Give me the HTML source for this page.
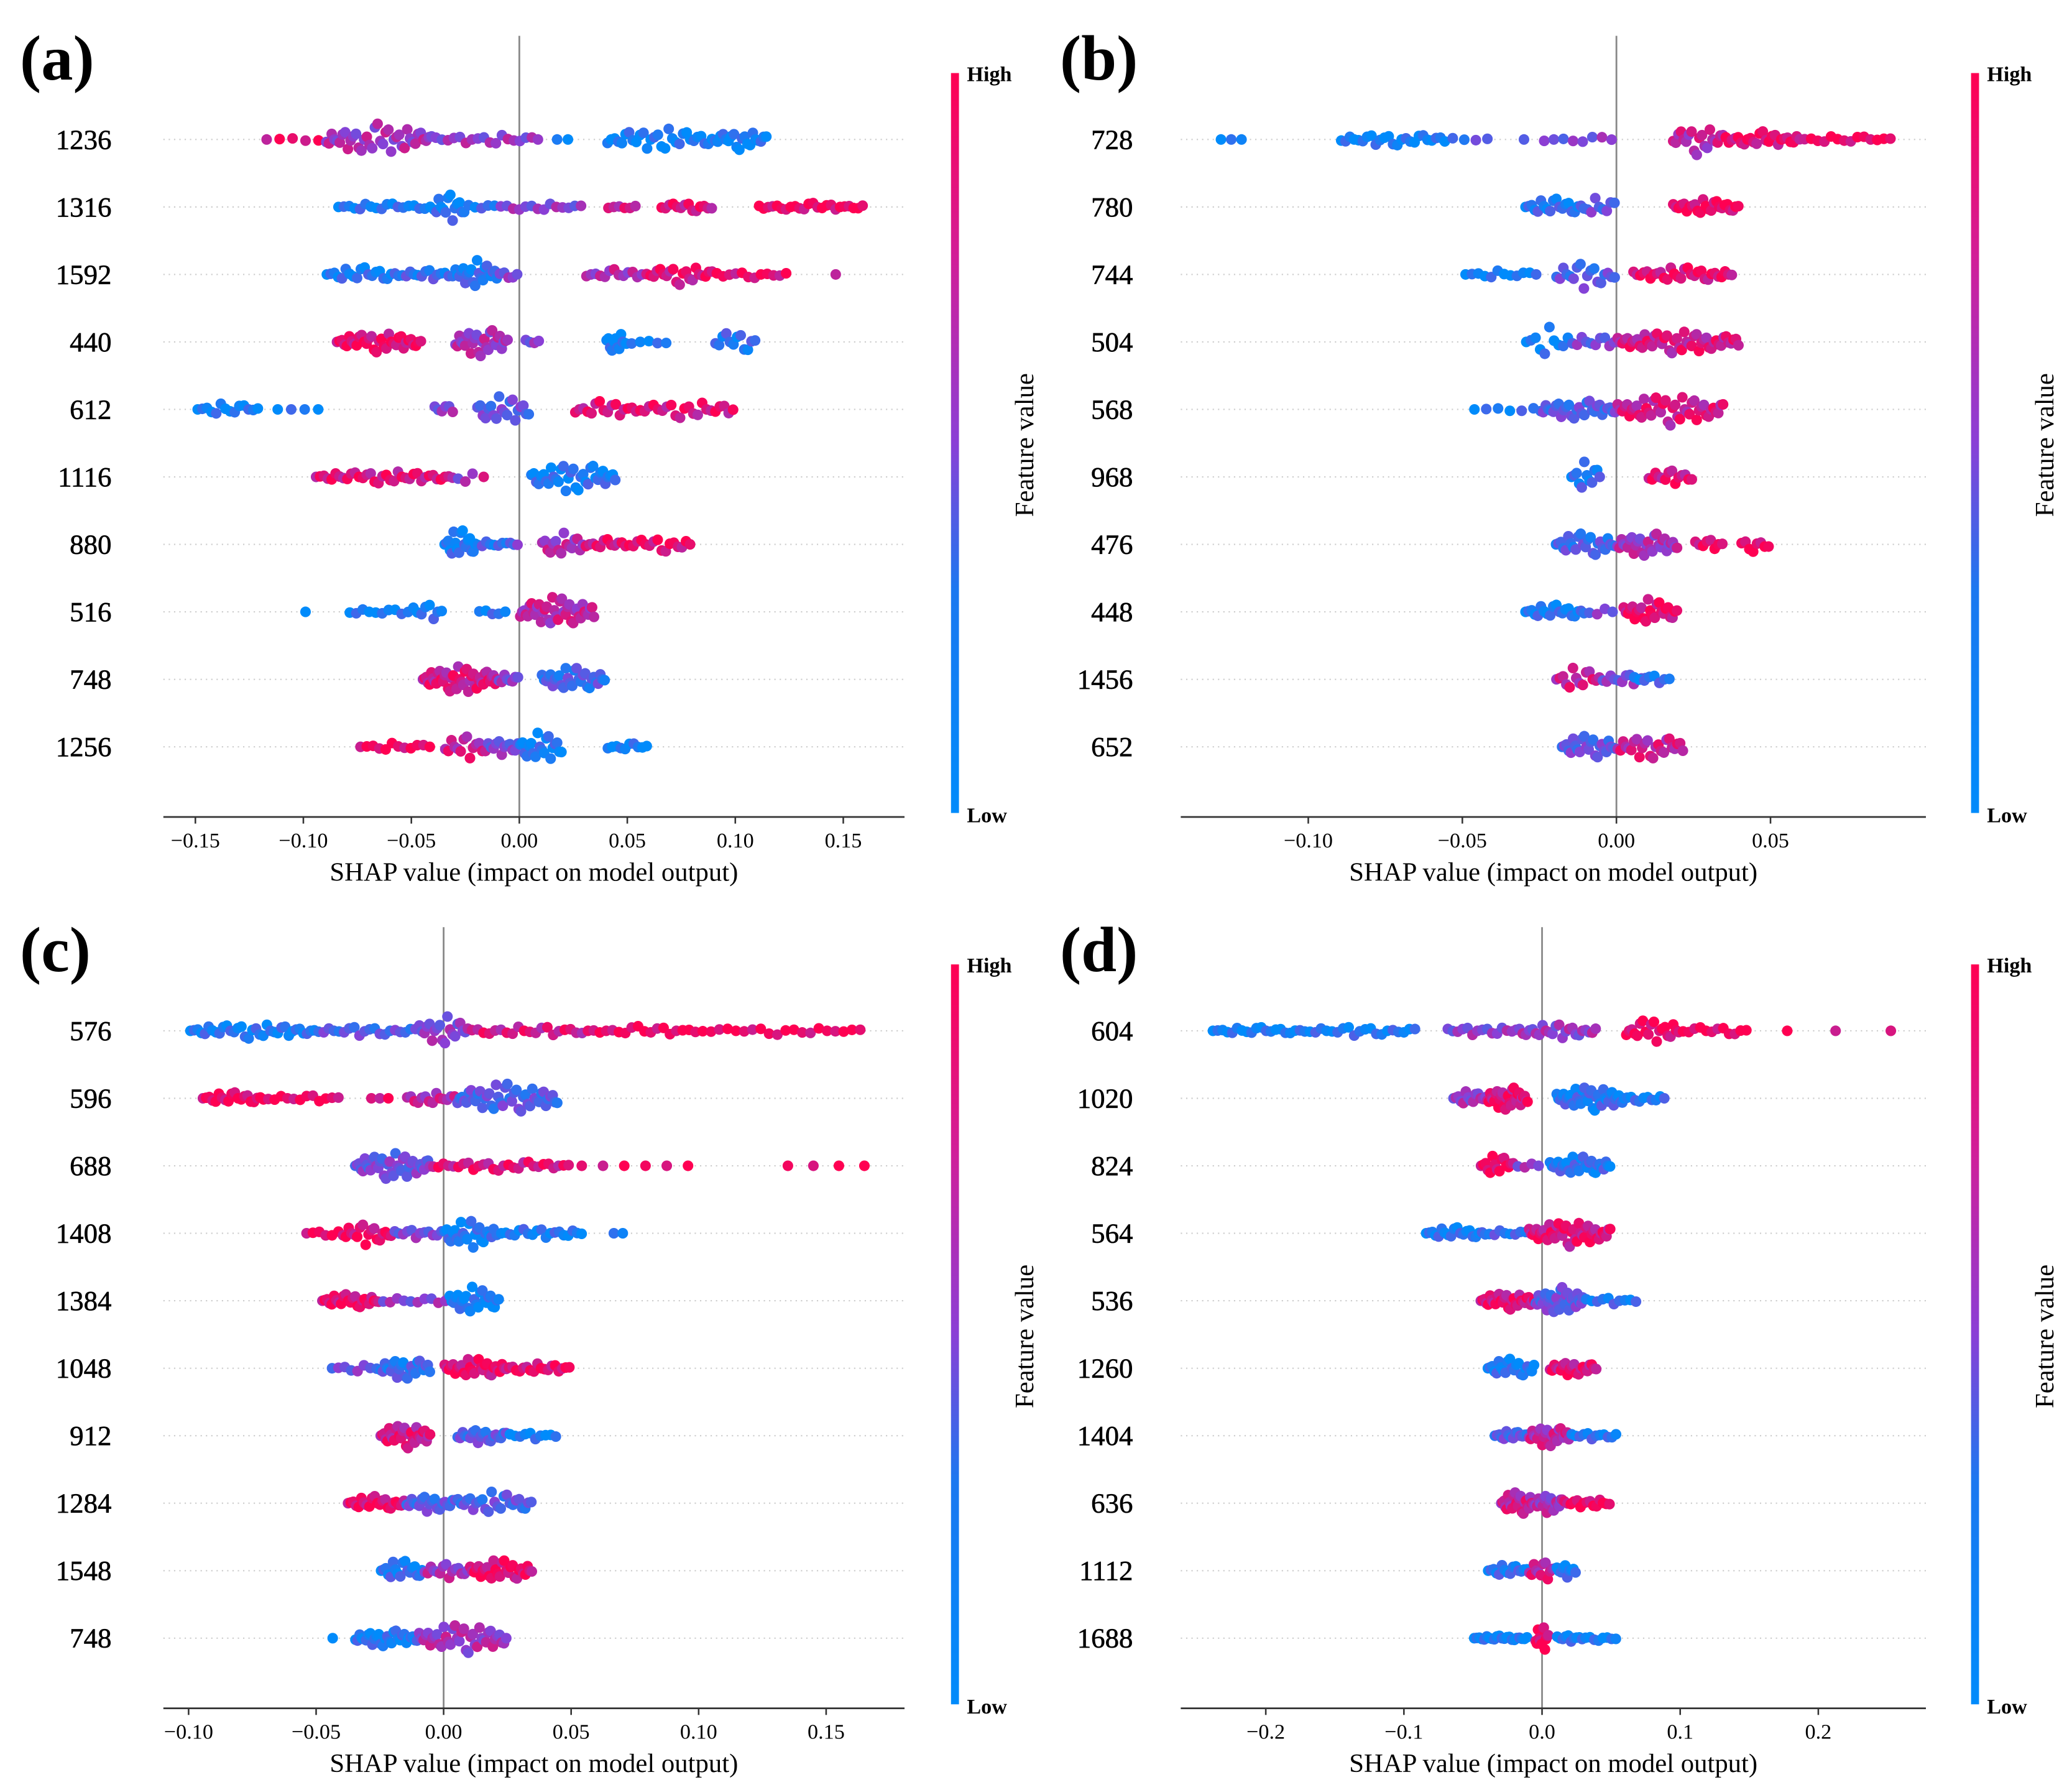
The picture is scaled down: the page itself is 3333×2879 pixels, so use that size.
<!DOCTYPE html>
<html><head><meta charset="utf-8"><style>
html,body{margin:0;padding:0;background:#fff;}
svg{display:block;font-family:"Liberation Serif",serif;}
</style></head><body>
<svg id="fig" width="3333" height="2879" viewBox="0 0 1560 1347.5" preserveAspectRatio="none" xmlns="http://www.w3.org/2000/svg">
<defs>
<linearGradient id="cbar" x1="0" y1="1" x2="0" y2="0">
<stop offset="0" stop-color="#008bfb"/><stop offset="0.3" stop-color="#1a78f0"/><stop offset="0.5" stop-color="#8a3fd6"/><stop offset="0.75" stop-color="#d11e98"/><stop offset="1" stop-color="#ff0052"/>
</linearGradient>
</defs>
</svg>
<script>
// ---- data ----
const panelLetters = ['(a)','(b)','(c)','(d)'];
const featuresA = ['1236','1316','1592','440','612','1116','880','516','748','1256'];
const featuresB = ['728','780','744','504','568','968','476','448','1456','652'];
const featuresC = ['576','596','688','1408','1384','1048','912','1284','1548','748'];
const featuresD = ['604','1020','824','564','536','1260','1404','636','1112','1688'];
const ticksA = [-0.15,-0.10,-0.05,0.00,0.05,0.10,0.15];
const ticksB = [-0.10,-0.05,0.00,0.05];
const ticksC = [-0.10,-0.05,0.00,0.05,0.10,0.15];
const ticksD = [-0.2,-0.1,0.0,0.1,0.2];
const tickLabelsA = ['\u22120.15','\u22120.10','\u22120.05','0.00','0.05','0.10','0.15'];
const tickLabelsB = ['\u22120.10','\u22120.05','0.00','0.05'];
const tickLabelsC = ['\u22120.10','\u22120.05','0.00','0.05','0.10','0.15'];
const tickLabelsD = ['\u22120.2','\u22120.1','0.0','0.1','0.2'];
// clusters: [lo, hi, count, featureColor(0 low..1 high), spread]
const clustersA = [
 [[-0.12,-0.09,5,0.9,2],[-0.09,-0.04,40,0.6,12],[-0.04,0.01,18,0.55,4],[0.015,0.025,2,0.1,0],[0.04,0.09,30,0.05,9],[0.09,0.115,20,0.05,8]],
 [[-0.085,-0.04,18,0.1,3],[-0.04,-0.025,14,0.1,12],[-0.025,-0.01,5,0.2,3],[-0.01,0.03,14,0.5,3],[0.04,0.055,6,0.8,2],[0.065,0.09,14,0.85,4],[0.11,0.16,24,0.95,3]],
 [[-0.09,-0.055,20,0.1,6],[-0.055,-0.03,14,0.2,4],[-0.03,-0.01,22,0.15,11],[-0.01,0,5,0.45,3],[0.03,0.06,14,0.65,4],[0.06,0.09,20,0.85,8],[0.09,0.125,12,0.9,3],[0.145,0.148,1,0.9,0]],
 [[-0.085,-0.045,35,0.9,8],[-0.03,-0.005,28,0.6,12],[0.002,0.01,4,0.5,3],[0.04,0.05,12,0.05,9],[0.05,0.07,5,0.1,3],[0.09,0.11,12,0.15,10]],
 [[-0.15,-0.12,14,0.05,5],[-0.115,-0.09,4,0.05,0],[-0.04,-0.03,6,0.5,5],[-0.02,0.005,20,0.35,12],[0.025,0.055,16,0.85,7],[0.055,0.1,22,0.85,7]],
 [[-0.095,-0.03,36,0.85,5],[-0.03,-0.02,3,0.5,5],[-0.018,-0.015,1,0.9,0],[0.005,0.045,35,0.1,12]],
 [[-0.035,-0.02,18,0.1,13],[-0.02,-0.005,8,0.2,3],[-0.005,0.0,3,0.4,2],[0.01,0.03,16,0.65,10],[0.03,0.05,12,0.85,4],[0.05,0.08,16,0.9,6]],
 [[-0.1,-0.098,1,0.05,0],[-0.08,-0.05,10,0.05,3],[-0.05,-0.035,8,0.1,8],[-0.02,-0.005,5,0.1,2],[0.0,0.035,40,0.7,12]],
 [[-0.045,-0.01,45,0.8,11],[-0.01,0,8,0.5,5],[0.01,0.04,30,0.25,10]],
 [[-0.075,-0.04,12,0.95,3],[-0.035,-0.015,14,0.75,10],[-0.015,0,12,0.45,7],[0,0.02,20,0.1,13],[0.04,0.06,10,0.05,3]]
];
const clustersB = [
 [[-0.13,-0.12,3,0.05,0],[-0.09,-0.055,25,0.05,5],[-0.055,-0.04,4,0.3,2],[-0.03,-0.03,1,0.3,0],[-0.025,0,8,0.45,3],[0.018,0.035,20,0.7,12],[0.035,0.06,25,0.9,6],[0.06,0.09,14,0.95,3]],
 [[-0.03,-0.01,20,0.15,7],[-0.01,0,8,0.35,10],[0.018,0.04,25,0.95,6]],
 [[-0.05,-0.025,12,0.05,3],[-0.02,0,18,0.3,11],[0.005,0.038,30,0.9,6]],
 [[-0.03,-0.015,10,0.05,12],[-0.015,0,10,0.4,6],[0,0.04,50,0.8,9]],
 [[-0.048,-0.025,6,0.1,2],[-0.025,0,30,0.3,8],[0,0.035,45,0.8,12]],
 [[-0.015,-0.005,12,0.15,12],[0.01,0.025,14,0.85,6]],
 [[-0.02,0.0,25,0.25,10],[0.0,0.02,30,0.6,10],[0.025,0.035,8,0.9,5],[0.04,0.05,8,0.95,6]],
 [[-0.03,-0.01,20,0.1,6],[-0.01,0,4,0.4,3],[0.002,0.02,25,0.9,10]],
 [[-0.02,-0.005,14,0.75,10],[-0.005,0.01,12,0.45,5],[0.005,0.018,8,0.15,4]],
 [[-0.018,0,25,0.35,10],[0,0.022,25,0.75,10]]
];
const clustersC = [
 [[-0.1,-0.05,35,0.1,6],[-0.05,-0.01,20,0.3,4],[-0.01,0.01,20,0.5,12],[0.01,0.06,22,0.8,4],[0.06,0.1,16,0.95,4],[0.1,0.165,20,0.95,3]],
 [[-0.095,-0.07,20,0.95,5],[-0.07,-0.04,12,0.95,3],[-0.03,-0.02,3,0.9,0],[-0.015,0.005,14,0.7,5],[0.005,0.045,45,0.3,12]],
 [[-0.035,-0.005,40,0.4,11],[-0.005,0.05,28,0.85,4],[0.05,0.1,6,0.95,0],[0.13,0.17,4,0.95,0]],
 [[-0.055,-0.04,6,0.95,3],[-0.04,-0.02,18,0.9,9],[-0.02,0,12,0.45,4],[0,0.02,25,0.1,12],[0.02,0.055,20,0.1,4],[0.065,0.072,2,0.05,0]],
 [[-0.048,-0.025,25,0.9,6],[-0.025,0.002,10,0.5,3],[0.002,0.022,25,0.05,11]],
 [[-0.045,-0.025,8,0.4,3],[-0.025,-0.005,25,0.2,9],[0,0.025,30,0.9,8],[0.025,0.05,18,0.9,4]],
 [[-0.025,-0.005,30,0.8,10],[0.005,0.025,20,0.3,6],[0.025,0.045,10,0.05,3]],
 [[-0.038,-0.015,22,0.9,6],[-0.015,0.005,20,0.3,7],[0.005,0.035,25,0.3,9]],
 [[-0.025,-0.008,18,0.15,9],[-0.008,0.01,15,0.6,6],[0.01,0.035,30,0.9,9]],
 [[-0.045,-0.042,1,0.05,0],[-0.035,-0.01,30,0.1,7],[-0.01,0.025,40,0.6,12]]
];
const clustersD = [
 [[-0.24,-0.17,20,0.05,3],[-0.17,-0.09,20,0.1,4],[-0.07,-0.02,14,0.5,4],[-0.02,0.04,25,0.55,6],[0.06,0.1,20,0.95,10],[0.1,0.15,12,0.95,4],[0.175,0.18,1,0.95,0],[0.21,0.215,1,0.95,0],[0.25,0.255,1,0.95,0]],
 [[-0.065,-0.04,14,0.55,6],[-0.04,-0.01,30,0.85,10],[0.01,0.06,40,0.15,10],[0.06,0.09,10,0.1,3]],
 [[-0.045,-0.02,15,0.95,9],[-0.02,0,4,0.5,2],[0.005,0.05,30,0.15,8]],
 [[-0.085,-0.04,20,0.1,5],[-0.04,-0.01,8,0.2,3],[-0.01,0.05,45,0.85,10]],
 [[-0.045,-0.005,30,0.85,7],[-0.005,0.03,35,0.35,11],[0.03,0.07,10,0.15,3]],
 [[-0.04,-0.005,22,0.1,8],[0.005,0.04,22,0.85,6]],
 [[-0.035,-0.01,15,0.3,4],[-0.01,0.02,25,0.7,9],[0.02,0.055,12,0.15,3]],
 [[-0.03,-0.005,25,0.75,10],[-0.005,0.015,20,0.6,8],[0.015,0.05,15,0.95,4]],
 [[-0.04,-0.01,15,0.15,5],[-0.01,0.01,12,0.75,9],[0.01,0.025,10,0.1,6]],
 [[-0.05,-0.01,22,0.05,2],[-0.005,0.005,12,0.95,12],[0.01,0.03,10,0.1,3],[0.03,0.055,8,0.05,2]]
];

// ---- layout ----
const NS='http://www.w3.org/2000/svg';
const svg=document.getElementById('fig');
function mk(tag,attrs,parent){const e=document.createElementNS(NS,tag);for(const k in attrs)e.setAttribute(k,attrs[k]);(parent||svg).appendChild(e);return e;}
function colorOf(t){
  const A=[0,139,251],M=[138,63,214],B=[255,0,82];
  let c; if(t<0.5){const u=t/0.5;c=A.map((v,i)=>v+(M[i]-v)*u);} else {const u=(t-0.5)/0.5;c=M.map((v,i)=>v+(B[i]-v)*u);}
  return 'rgb('+c.map(Math.round).join(',')+')';
}
const panels=[
 {letter:panelLetters[0],feat:featuresA,ticks:ticksA,tl:tickLabelsA,cl:clustersA,x0:123,x1:681,zero:391,unit:81.3/0.05,oy:0,labX:84,cbX:716,letX:15},
 {letter:panelLetters[1],feat:featuresB,ticks:ticksB,tl:tickLabelsB,cl:clustersB,x0:889,x1:1450,zero:1217,unit:116/0.05,oy:0,labX:853,cbX:1484,letX:798},
 {letter:panelLetters[2],feat:featuresC,ticks:ticksC,tl:tickLabelsC,cl:clustersC,x0:123,x1:681,zero:334,unit:96/0.05,oy:671,labX:84,cbX:716,letX:15},
 {letter:panelLetters[3],feat:featuresD,ticks:ticksD,tl:tickLabelsD,cl:clustersD,x0:889,x1:1450,zero:1161,unit:104/0.1,oy:671,labX:853,cbX:1484,letX:798}
];
panels.forEach((p,pi)=>{
  const g=mk('g',{});
  
  
  const X=v=>p.zero+v*p.unit;
  const rowY=i=>p.oy+105+i*50.8;
  const axisY=p.oy+615;
  const lt=mk('text',{x:p.letX,y:p.oy+60,'font-size':48,'font-weight':'bold'},g);lt.textContent=p.letter;
  
  p.feat.forEach((f,i)=>{
    const gl=mk('line',{x1:p.x0,x2:p.x1,y1:rowY(i),y2:rowY(i),stroke:'#ccc','stroke-width':1,'stroke-dasharray':'1,3'},g);
    
    const t=mk('text',{x:p.labX,y:rowY(i)+7,'font-size':21,'text-anchor':'end',stroke:'#000','stroke-width':0.3},g);t.textContent=f;
    
  });
  const zl=mk('line',{x1:p.zero,x2:p.zero,y1:p.oy+27,y2:axisY,stroke:'#888','stroke-width':1.3},g);
  
  p.cl.forEach((row,ri)=>{
    const y0=rowY(ri);
    row.forEach((c,ci)=>{
      const [lo,hi,n,col,h]=c;
      for(let k=0;k<n;k++){
        const v=lo+(hi-lo)*(k+0.5)/n;
        const prof=1-Math.abs((k+0.5)/n-0.5)*1.4;
        const j=((k*13+ci*5)%11)/10;
        const sgn=(((k*3+ci)%4)<2)?1:-1;
        const dy=sgn*h*prof*j;
        const cv=Math.min(1,Math.max(0,col+(((k*5+ci)%7)-3)*0.06));
        const d=mk('circle',{cx:X(v),cy:y0+dy,r:4,fill:colorOf(cv)},g);
        
        
      }
    });
  });
  const ax=mk('line',{x1:p.x0,x2:p.x1,y1:axisY,y2:axisY,stroke:'#333','stroke-width':1.3},g);
  
  p.ticks.forEach((tv,ti)=>{
    const tk=mk('line',{x1:X(tv),x2:X(tv),y1:axisY,y2:axisY+5,stroke:'#333','stroke-width':1.2},g);
    
    const tt=mk('text',{x:X(tv),y:axisY+23,'font-size':16,'text-anchor':'middle'},g);tt.textContent=p.tl[ti];
    
  });
  const at=mk('text',{x:(p.x0+p.x1)/2,y:axisY+48,'font-size':20,'text-anchor':'middle'},g);
  at.textContent='SHAP value (impact on model output)';
  
  const cb=mk('rect',{x:p.cbX,y:p.oy+55,width:6,height:557,fill:'url(#cbar)'},g);
  
  const hi=mk('text',{x:p.cbX+12,y:p.oy+61,'font-size':16,'font-weight':'bold'},g);hi.textContent='High';
  
  const lo=mk('text',{x:p.cbX+12,y:p.oy+619,'font-size':16,'font-weight':'bold'},g);lo.textContent='Low';
  
  const fv=mk('text',{x:p.cbX+62,y:p.oy+335,'font-size':20,'text-anchor':'middle',transform:'rotate(-90 '+(p.cbX+62)+' '+(p.oy+335)+')'},g);
  fv.textContent='Feature value';
  
});
</script>
</body></html>
